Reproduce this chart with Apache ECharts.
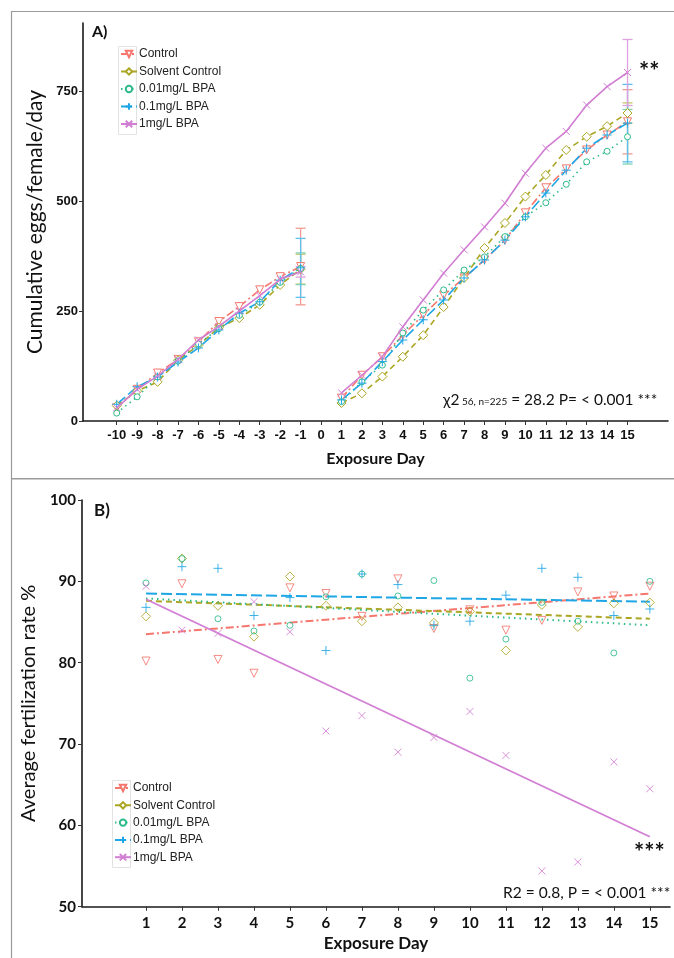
<!DOCTYPE html>
<html><head><meta charset="utf-8">
<script src="https://cdn.jsdelivr.net/npm/echarts@6/dist/echarts.min.js"></script>
<style>html,body{margin:0;padding:0;background:#fff}#c{width:674px;height:958px}</style>
</head><body><div id="c"></div>
<script>
// ---------- Panel A data: cumulative eggs/female/day ----------
const seriesNames = ['Control', 'Solvent Control', '0.01mg/L BPA', '0.1mg/L BPA', '1mg/L BPA'];
const eggDays = [-10, -9, -8, -7, -6, -5, -4, -3, -2, -1, 1, 2, 3, 4, 5, 6, 7, 8, 9, 10, 11, 12, 13, 14, 15];
const eggTickLabels = [-10, -9, -8, -7, -6, -5, -4, -3, -2, -1, 0, 1, 2, 3, 4, 5, 6, 7, 8, 9, 10, 11, 12, 13, 14, 15];
const eggYTicks = [0, 250, 500, 750];
const ctrlEggs  = [30, 72, 109, 140, 180, 226, 260, 298, 328, 351, 52, 104, 146, 195, 241, 286, 325, 366, 411, 473, 530, 573, 616, 650, 680];
const solvEggs  = [35, 68, 89, 138, 172, 212, 234, 264, 309, 345, 41, 63, 101, 146, 195, 259, 325, 393, 450, 510, 559, 616, 646, 670, 700];
const bpa001Eggs = [18, 55, 100, 136, 175, 210, 240, 270, 315, 346, 44, 89, 127, 200, 252, 298, 343, 373, 419, 464, 496, 538, 589, 613, 646];
const bpa01Eggs = [38, 78, 100, 134, 166, 207, 245, 271, 320, 348, 48, 86, 135, 184, 230, 275, 325, 366, 411, 464, 518, 570, 620, 650, 677];
const bpa1Eggs  = [30, 72, 102, 140, 184, 215, 250, 285, 322, 339, 64, 104, 146, 214, 275, 336, 389, 441, 495, 563, 620, 658, 718, 760, 792];
// error bars (half-width) at days -1 and 15
const errDays = [-1, 15];
const ctrlErr = [87, 73];
const solvErr = [34, 23];
const bpa001Err = [36, 62];
const bpa01Err = [67, 88];
const bpa1Err = [12, 75];

// ---------- Panel B data: average fertilization rate % ----------
const fertDays = [1, 2, 3, 4, 5, 6, 7, 8, 9, 10, 11, 12, 13, 14, 15];
const fertYTicks = [50, 60, 70, 80, 90, 100];
const ctrlFert  = [80.2, 89.7, 80.4, 78.7, 89.2, 88.5, 85.7, 90.3, 84.2, 86.5, 84.0, 85.2, 88.7, 88.2, 89.4];
const solvFert  = [85.7, 92.8, 87.0, 83.2, 90.6, 87.0, 85.1, 86.8, 84.9, 86.3, 81.5, 87.1, 84.4, 87.3, 87.4];
const bpa001Fert = [89.8, 92.8, 85.4, 83.9, 84.6, 88.1, 90.9, 88.2, 90.1, 78.1, 82.9, 87.4, 85.1, 81.2, 90.0];
const bpa01Fert = [86.8, 91.8, 91.6, 85.8, 88.0, 81.5, 90.9, 89.6, 84.6, 85.1, 88.3, 91.6, 90.5, 85.8, 86.6];
const bpa1Fert  = [89.4, 84.0, 83.6, 87.5, 83.8, 71.6, 73.5, 69.0, 70.8, 74.0, 68.6, 54.4, 55.5, 67.8, 64.5];
// fitted trend lines read at day 1 and day 15
const trendDays = [1, 15];
const ctrlTrend = [83.5, 88.5];
const solvTrend = [87.6, 85.4];
const bpa001Trend = [87.9, 84.6];
const bpa01Trend = [88.5, 87.5];
const bpa1Trend = [87.8, 58.6];

// ---------- styles ----------
const colors = ['#F5776E', '#ABA623', '#2DBB8A', '#1EA6E6', '#D17ED3'];
const errColors = ['#F39A94', '#C9C466', '#7FD3B3', '#5DC0EE', '#DDA2DF'];
const dashes = [[8, 3, 2, 3], [6, 4], [1.5, 4], [11, 4], 'solid'];
const symbols = [
  'path://M0,0 L10,0 L5,9 Z',
  'diamond',
  'circle',
  'path://M5,0 L5,10 M0,5 L10,5',
  'path://M0,0 L10,10 M10,0 L0,10'
];
const symSizes = [8, 9, 6, 9, 7];
const eggSets = [ctrlEggs, solvEggs, bpa001Eggs, bpa01Eggs, bpa1Eggs];
const errSets = [ctrlErr, solvErr, bpa001Err, bpa01Err, bpa1Err];
const fertSets = [ctrlFert, solvFert, bpa001Fert, bpa01Fert, bpa1Fert];
const trendSets = [ctrlTrend, solvTrend, bpa001Trend, bpa01Trend, bpa1Trend];

const series = [];
seriesNames.forEach((name, i) => {
  const data = [];
  eggDays.forEach((d, k) => {
    if (d === 1) data.push([0, '-']);
    data.push([d, eggSets[i][k]]);
  });
  series.push({
    name, type: 'line', xAxisIndex: 0, yAxisIndex: 0, data,
    symbol: symbols[i], symbolSize: symSizes[i], connectNulls: false,
    lineStyle: { color: colors[i], width: 1.6, type: dashes[i] },
    itemStyle: { color: '#fff', borderColor: colors[i], borderWidth: 1 },
    z: i === 4 ? 4 : 3
  });
  const errData = errDays.map((d, k) => {
    const m = eggSets[i][eggDays.indexOf(d)];
    return [d, m - errSets[i][k], m + errSets[i][k]];
  });
  series.push({
    name: name + ' SE', type: 'custom', xAxisIndex: 0, yAxisIndex: 0, data: errData,
    encode: { x: 0, y: [1, 2] }, z: 2,
    renderItem: (params, api) => {
      const x = api.value(0);
      const p1 = api.coord([x, api.value(2)]);
      const p2 = api.coord([x, api.value(1)]);
      const w = 5;
      const st = { stroke: errColors[i], lineWidth: 1.3 };
      return { type: 'group', children: [
        { type: 'line', shape: { x1: p1[0], y1: p1[1], x2: p2[0], y2: p2[1] }, style: st },
        { type: 'line', shape: { x1: p1[0] - w, y1: p1[1], x2: p1[0] + w, y2: p1[1] }, style: st },
        { type: 'line', shape: { x1: p2[0] - w, y1: p2[1], x2: p2[0] + w, y2: p2[1] }, style: st }
      ]};
    }
  });
  series.push({
    name, type: 'scatter', xAxisIndex: 1, yAxisIndex: 1,
    data: fertDays.map((d, k) => [d, fertSets[i][k]]),
    symbol: symbols[i], symbolSize: symSizes[i],
    itemStyle: { color: 'rgba(255,255,255,0)', borderColor: colors[i], borderWidth: 1, opacity: 0.85 },
    z: 3
  });
  series.push({
    name: name + ' fit', type: 'line', xAxisIndex: 1, yAxisIndex: 1,
    data: trendDays.map((d, k) => [d, trendSets[i][k]]),
    symbol: 'none', lineStyle: { color: colors[i], width: i === 4 ? 1.8 : 2, type: dashes[i] },
    z: 2
  });
});

const axisLineStyle = { onZero: false, lineStyle: { color: '#1a1a1a', width: 1.6 } };
const tickStyle = { show: true, length: 4, lineStyle: { color: '#333', width: 1 } };

const option = {
  animation: false,
  backgroundColor: '#fff',
  grid: [
    { left: 83, top: 23, width: 585, height: 398 },
    { left: 82, top: 500, width: 588, height: 406.7 }
  ],
  xAxis: [
    { type: 'value', gridIndex: 0, min: -11.65, max: 16.98,
      axisLine: axisLineStyle, splitLine: { show: false },
      axisTick: Object.assign({ customValues: eggTickLabels }, tickStyle),
      axisLabel: { customValues: eggTickLabels, fontFamily: 'Liberation Sans', fontWeight: 'bold', fontSize: 13, color: '#111', margin: 8 },
      name: 'Exposure Day', nameLocation: 'middle', nameGap: 30,
      nameTextStyle: { fontFamily: 'Lato', fontWeight: 'bold', fontSize: 16, color: '#111' } },
    { type: 'value', gridIndex: 1, min: -0.778, max: 15.56,
      axisLine: axisLineStyle, splitLine: { show: false },
      axisTick: Object.assign({ customValues: fertDays }, tickStyle),
      axisLabel: { customValues: fertDays, fontFamily: 'Lato', fontWeight: 'bold', fontSize: 15, color: '#111', margin: 9 },
      name: 'Exposure Day', nameLocation: 'middle', nameGap: 28,
      nameTextStyle: { fontFamily: 'Lato', fontWeight: 'bold', fontSize: 17, color: '#111' } }
  ],
  yAxis: [
    { type: 'value', gridIndex: 0, min: 0, max: 904.5,
      axisLine: axisLineStyle, splitLine: { show: false },
      axisTick: Object.assign({ customValues: eggYTicks }, tickStyle),
      axisLabel: { customValues: eggYTicks, fontFamily: 'Liberation Sans', fontWeight: 'bold', fontSize: 13, color: '#111', margin: 5 },
      name: 'Cumulative eggs/female/day', nameLocation: 'middle', nameGap: 33,
      nameTextStyle: { fontFamily: 'Lato', fontSize: 21, color: '#111' } },
    { type: 'value', gridIndex: 1, min: 50, max: 100, interval: 10,
      axisLine: axisLineStyle, splitLine: { show: false },
      axisTick: tickStyle,
      axisLabel: { fontFamily: 'Lato', fontWeight: 'bold', fontSize: 15, color: '#111', margin: 6 },
      name: 'Average fertilization rate %', nameLocation: 'middle', nameGap: 32,
      nameTextStyle: { fontFamily: 'Lato', fontSize: 20, color: '#111' } }
  ],
  legend: [
    { data: seriesNames, orient: 'vertical', left: 120, top: 48, itemWidth: 16, itemHeight: 8, itemGap: 5.5,
      textStyle: { fontFamily: 'Liberation Sans', fontSize: 12, color: '#222', padding: [0, 0, 0, -3] }, padding: 0 },
    { data: seriesNames, orient: 'vertical', left: 114, top: 782, itemWidth: 16, itemHeight: 8, itemGap: 5.3,
      textStyle: { fontFamily: 'Liberation Sans', fontSize: 12, color: '#222', padding: [0, 0, 0, -3] }, padding: 0 }
  ],
  graphic: [
    { type: 'rect', shape: { x: 11.5, y: 11.5, width: 680, height: 467 }, style: { fill: 'none', stroke: '#9a9a9a', lineWidth: 1.2 }, silent: true },
    { type: 'rect', shape: { x: 11.5, y: 479, width: 680, height: 500 }, style: { fill: 'none', stroke: '#9a9a9a', lineWidth: 1.2 }, silent: true },
    { type: 'rect', shape: { x: 118.5, y: 46.5, width: 18, height: 88 }, style: { fill: 'none', stroke: '#e2e2e2', lineWidth: 1 }, silent: true, z: -1 },
    { type: 'rect', shape: { x: 112.5, y: 780.5, width: 18, height: 87 }, style: { fill: 'none', stroke: '#e2e2e2', lineWidth: 1 }, silent: true, z: -1 },
    { type: 'text', left: 92, top: 24, style: { text: 'A)', font: 'bold 16px Lato', fill: '#111' } },
    { type: 'text', left: 94, top: 502, style: { text: 'B)', font: 'bold 17px Lato', fill: '#111' } },
    { type: 'text', left: 639, top: 60, style: { text: '**', font: 'bold 24px Lato', fill: '#111' } },
    { type: 'text', left: 634, top: 841, style: { text: '***', font: 'bold 24px Lato', fill: '#111' } },
    { type: 'text', left: 443, top: 392, style: {
        text: '{a|χ2}{s| 56, n=225}{a| = 28.2 P= < 0.001 ***}',
        rich: { a: { font: '15.5px Lato', fill: '#111' }, s: { font: '10px Lato', fill: '#111', padding: [3, 0, 0, 0] } } } },
    { type: 'text', left: 503, top: 885, style: { text: 'R2 = 0.8, P = < 0.001 ***', font: '15.5px Lato', fill: '#111' } }
  ],
  series
};
const chart = echarts.init(document.getElementById('c'), null, { renderer: 'canvas' });
chart.setOption(option);
</script></body></html>
